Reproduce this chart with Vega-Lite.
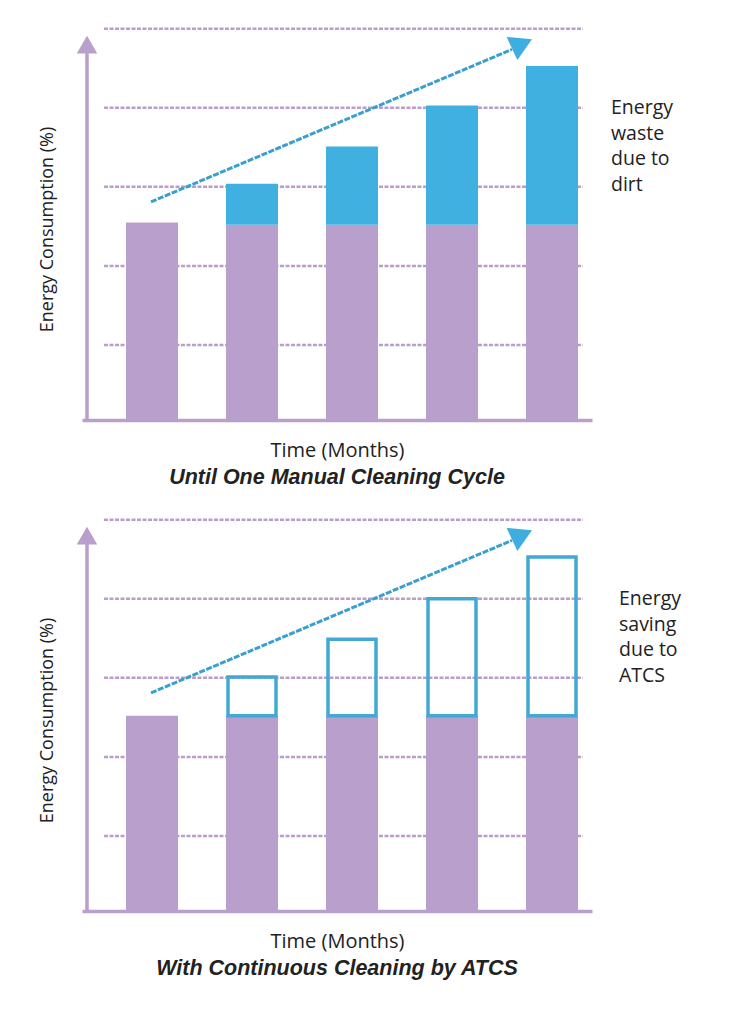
{
  "$schema": "https://vega.github.io/schema/vega-lite/v6.json",
  "background": "white",
  "padding": {"left": 38, "top": 13, "right": 5, "bottom": 5},
  "spacing": 15,
  "config": {
    "view": {"stroke": null},
    "font": "Open Sans",
    "axisX": {"labels": false, "ticks": false, "grid": false, "domainColor": "#b99fcb", "domainWidth": 3.5, "titleFontSize": 20, "titleFontWeight": "normal", "titleColor": "#222222", "titlePadding": 20},
    "axisY": {"labels": false, "ticks": false, "grid": false, "domain": false, "titleFontSize": 18, "titleFontWeight": "normal", "titleColor": "#222222", "titleX": -35, "titleY": 216, "titleBaseline": "middle"}
  },
  "datasets": {
    "top": [
      {"month": 1, "base": 2.55, "total": 2.55},
      {"month": 2, "base": 2.52, "total": 3.04},
      {"month": 3, "base": 2.52, "total": 3.51},
      {"month": 4, "base": 2.52, "total": 4.03},
      {"month": 5, "base": 2.52, "total": 4.53}
    ],
    "bottom": [
      {"month": 1, "base": 2.52, "total": 2.52},
      {"month": 2, "base": 2.52, "total": 3.01},
      {"month": 3, "base": 2.52, "total": 3.49},
      {"month": 4, "base": 2.52, "total": 4.0},
      {"month": 5, "base": 2.52, "total": 4.53}
    ],
    "grid": [{"g": 1}, {"g": 2}, {"g": 3}, {"g": 4}, {"g": 5}],
    "one": [{}]
  },
  "vconcat": [
    {
      "width": 510,
      "height": 407,
      "title": {"text": "Until One Manual Cleaning Cycle", "orient": "bottom", "font": "Liberation Sans", "fontStyle": "italic", "fontWeight": "bold", "fontSize": 21.5, "offset": 7, "color": "#222222"},
      "layer": [
        {
          "data": {"name": "grid"},
          "mark": {"type": "rule", "color": "#bb9dcb", "strokeWidth": 2.5, "strokeDash": [4, 1.5]},
          "encoding": {
            "y": {"field": "g", "type": "quantitative", "scale": {"domain": [0.05, 5.2], "nice": false, "zero": false}, "axis": {"title": "Energy Consumption (%)"}},
            "x": {"datum": 0.52, "type": "quantitative", "scale": {"domain": [0.35, 5.35], "nice": false, "zero": false}, "axis": {"title": "Time (Months)"}},
            "x2": {"datum": 5.31}
          }
        },
        {
          "data": {"name": "top"},
          "mark": {"type": "bar", "width": 52, "color": "#b99fcb"},
          "encoding": {
            "x": {"field": "month", "type": "quantitative"},
            "y": {"field": "base", "type": "quantitative"},
            "y2": {"datum": 0.05}
          }
        },
        {
          "data": {"name": "top"},
          "transform": [{"filter": "datum.total > datum.base"}],
          "mark": {"type": "bar", "width": 52, "color": "#3fb0e0"},
          "encoding": {
            "x": {"field": "month", "type": "quantitative"},
            "y": {"field": "total", "type": "quantitative"},
            "y2": {"field": "base"}
          }
        },
        {
          "data": {"name": "one"},
          "mark": {"type": "rule", "color": "#b99fcb", "strokeWidth": 3.5},
          "encoding": {"x": {"datum": 0.35, "type": "quantitative"}, "y": {"datum": 0.05, "type": "quantitative"}, "y2": {"datum": 4.75}}
        },
        {
          "data": {"name": "one"},
          "mark": {"type": "point", "shape": "triangle-up", "filled": true, "opacity": 1, "size": 420, "color": "#b99fcb"},
          "encoding": {"x": {"datum": 0.35, "type": "quantitative"}, "y": {"datum": 4.8, "type": "quantitative"}}
        },
        {
          "data": {"name": "one"},
          "mark": {"type": "rule", "color": "#3a9fcf", "strokeWidth": 3, "strokeDash": [6, 1.5]},
          "encoding": {"x": {"datum": 0.99, "type": "quantitative"}, "y": {"datum": 2.81, "type": "quantitative"}, "x2": {"datum": 4.6}, "y2": {"datum": 4.74}}
        },
        {
          "data": {"name": "one"},
          "mark": {"type": "point", "shape": "triangle-right", "filled": true, "opacity": 1, "size": 650, "angle": 335, "color": "#3eaee0"},
          "encoding": {"x": {"datum": 4.7, "type": "quantitative"}, "y": {"datum": 4.81, "type": "quantitative"}}
        },
        {
          "data": {"name": "one"},
          "mark": {"type": "text", "align": "left", "baseline": "alphabetic", "fontSize": 19.5, "lineHeight": 25.5, "color": "#222222", "text": ["Energy", "waste", "due to", "dirt"]},
          "encoding": {"x": {"datum": 5.59, "type": "quantitative"}, "y": {"datum": 3.92, "type": "quantitative"}}
        }
      ]
    },
    {
      "width": 510,
      "height": 407,
      "title": {"text": "With Continuous Cleaning by ATCS", "orient": "bottom", "font": "Liberation Sans", "fontStyle": "italic", "fontWeight": "bold", "fontSize": 21.5, "offset": 7, "color": "#222222"},
      "layer": [
        {
          "data": {"name": "grid"},
          "mark": {"type": "rule", "color": "#bb9dcb", "strokeWidth": 2.5, "strokeDash": [4, 1.5]},
          "encoding": {
            "y": {"field": "g", "type": "quantitative", "scale": {"domain": [0.05, 5.2], "nice": false, "zero": false}, "axis": {"title": "Energy Consumption (%)"}},
            "x": {"datum": 0.52, "type": "quantitative", "scale": {"domain": [0.35, 5.35], "nice": false, "zero": false}, "axis": {"title": "Time (Months)"}},
            "x2": {"datum": 5.31}
          }
        },
        {
          "data": {"name": "bottom"},
          "mark": {"type": "bar", "width": 52, "color": "#b99fcb"},
          "encoding": {
            "x": {"field": "month", "type": "quantitative"},
            "y": {"field": "base", "type": "quantitative"},
            "y2": {"datum": 0.05}
          }
        },
        {
          "data": {"name": "bottom"},
          "transform": [{"filter": "datum.total > datum.base"}],
          "mark": {"type": "bar", "width": 48, "filled": false, "color": "#41a9d3", "strokeWidth": 3.5},
          "encoding": {
            "x": {"field": "month", "type": "quantitative"},
            "y": {"field": "total", "type": "quantitative"},
            "y2": {"field": "base"}
          }
        },
        {
          "data": {"name": "one"},
          "mark": {"type": "rule", "color": "#b99fcb", "strokeWidth": 3.5},
          "encoding": {"x": {"datum": 0.35, "type": "quantitative"}, "y": {"datum": 0.05, "type": "quantitative"}, "y2": {"datum": 4.75}}
        },
        {
          "data": {"name": "one"},
          "mark": {"type": "point", "shape": "triangle-up", "filled": true, "opacity": 1, "size": 420, "color": "#b99fcb"},
          "encoding": {"x": {"datum": 0.35, "type": "quantitative"}, "y": {"datum": 4.8, "type": "quantitative"}}
        },
        {
          "data": {"name": "one"},
          "mark": {"type": "rule", "color": "#3a9fcf", "strokeWidth": 3, "strokeDash": [6, 1.5]},
          "encoding": {"x": {"datum": 0.99, "type": "quantitative"}, "y": {"datum": 2.81, "type": "quantitative"}, "x2": {"datum": 4.6}, "y2": {"datum": 4.74}}
        },
        {
          "data": {"name": "one"},
          "mark": {"type": "point", "shape": "triangle-right", "filled": true, "opacity": 1, "size": 650, "angle": 335, "color": "#3eaee0"},
          "encoding": {"x": {"datum": 4.7, "type": "quantitative"}, "y": {"datum": 4.81, "type": "quantitative"}}
        },
        {
          "data": {"name": "one"},
          "mark": {"type": "text", "align": "left", "baseline": "alphabetic", "fontSize": 19.5, "lineHeight": 25.5, "color": "#222222", "text": ["Energy", "saving", "due to", "ATCS"]},
          "encoding": {"x": {"datum": 5.67, "type": "quantitative"}, "y": {"datum": 3.92, "type": "quantitative"}}
        }
      ]
    }
  ]
}
